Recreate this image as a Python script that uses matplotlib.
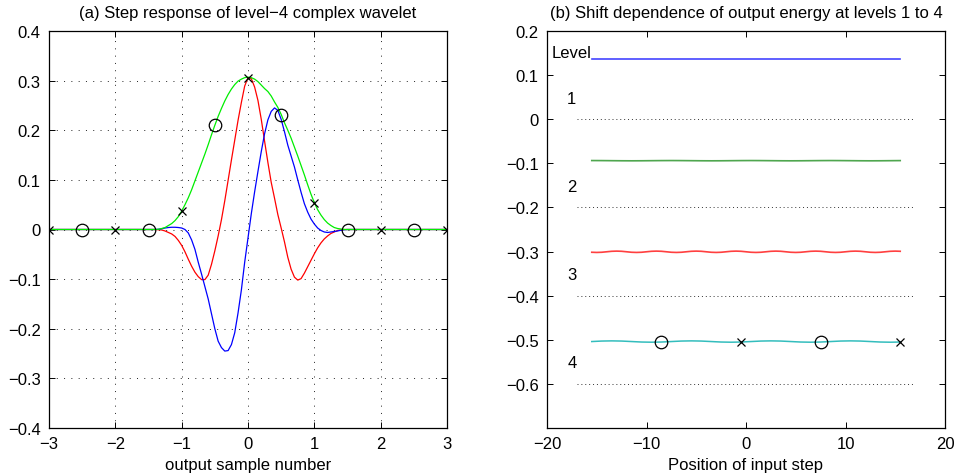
import numpy as np
import matplotlib
matplotlib.use("Agg")
import matplotlib.pyplot as plt
from matplotlib.ticker import FuncFormatter, FixedLocator

plt.rcParams['font.family'] = ['Liberation Sans', 'DejaVu Sans']
plt.rcParams['font.size'] = 12

# ---------------- data: panel (a) ----------------
wave_x = [-3.0, -2.0] + [round(v, 2) for v in np.arange(-1.5, 1.5001, 0.05)] + [2.0, 3.0]

real_part = [0.0, 0.0,
    0.0, 0.0, 0.0, -0.0005, -0.001, -0.003, -0.006, -0.009, -0.014, -0.022,
    -0.032, -0.045, -0.060, -0.074, -0.086, -0.095, -0.101, -0.101, -0.092, -0.070,
    -0.043, -0.013, 0.020, 0.058, 0.099, 0.140, 0.180, 0.220, 0.256, 0.289,
    0.306,
    0.304, 0.287, 0.260, 0.222, 0.178, 0.135, 0.095, 0.063, 0.030, 0.003,
    -0.025, -0.056, -0.080, -0.096, -0.102, -0.099, -0.088, -0.075, -0.062, -0.049,
    -0.037, -0.027, -0.019, -0.013, -0.008, -0.005, -0.002, -0.001, 0.0, 0.0,
    0.0, 0.0]

imag_part = [0.0, 0.0,
    0.0, 0.0, 0.0, 0.0005, 0.0015, 0.003, 0.004, 0.0045, 0.0045, 0.004,
    0.003, 0.0, -0.007, -0.021, -0.040, -0.066, -0.090, -0.115, -0.140, -0.170,
    -0.200, -0.225, -0.238, -0.245, -0.244, -0.232, -0.208, -0.168, -0.122, -0.066,
    -0.017,
    0.032, 0.076, 0.117, 0.157, 0.193, 0.221, 0.238, 0.245, 0.240, 0.222,
    0.197, 0.170, 0.148, 0.126, 0.100, 0.075, 0.052, 0.035, 0.021, 0.011,
    0.003, -0.002, -0.005, -0.006, -0.005, -0.004, -0.003, -0.0015, -0.0005, 0.0,
    0.0, 0.0]

magnitude = [0.0, 0.0,
    0.0, 0.0, 0.0, 0.0005, 0.002, 0.004, 0.008, 0.012, 0.018, 0.026,
    0.037, 0.050, 0.064, 0.080, 0.098, 0.116, 0.134, 0.152, 0.171, 0.191,
    0.210, 0.228, 0.244, 0.259, 0.272, 0.283, 0.292, 0.299, 0.303, 0.306,
    0.307,
    0.306, 0.303, 0.298, 0.291, 0.284, 0.278, 0.269, 0.257, 0.246, 0.232,
    0.215, 0.200, 0.184, 0.166, 0.148, 0.129, 0.110, 0.090, 0.071, 0.054,
    0.040, 0.029, 0.020, 0.013, 0.008, 0.004, 0.002, 0.001, 0.0, 0.0,
    0.0, 0.0]

cross_x = [-3, -2, -1, 0, 1, 2, 3]
cross_y = [0.0, 0.0, 0.037, 0.305, 0.054, 0.0, 0.0]
circle_x = [-2.5, -1.5, -0.5, 0.5, 1.5, 2.5]
circle_y = [0.0, 0.0, 0.211, 0.231, 0.0, 0.0]

# ---------------- data: panel (b) ----------------
shift_x = [round(v, 1) for v in np.arange(-15.5, 15.51, 1.0)]
shift_x_fine = [round(v, 1) for v in np.arange(-15.5, 15.51, 0.5)]

level1 = [
    0.1375, 0.1375, 0.1375, 0.1375, 0.1375, 0.1375, 0.1375, 0.1375,
    0.1375, 0.1375, 0.1375, 0.1375, 0.1375, 0.1375, 0.1375, 0.1375,
    0.1375, 0.1375, 0.1375, 0.1375, 0.1375, 0.1375, 0.1375, 0.1375,
    0.1375, 0.1375, 0.1375, 0.1375, 0.1375, 0.1375, 0.1375, 0.1375]
level2 = [
    -0.0937, -0.0938, -0.0940, -0.0942, -0.0943, -0.0942, -0.0940, -0.0938,
    -0.0937, -0.0938, -0.0940, -0.0942, -0.0943, -0.0942, -0.0940, -0.0938,
    -0.0937, -0.0938, -0.0940, -0.0942, -0.0943, -0.0942, -0.0940, -0.0938,
    -0.0937, -0.0938, -0.0940, -0.0942, -0.0943, -0.0942, -0.0940, -0.0938]
level3 = [
    -0.3016, -0.3020, -0.3016, -0.3005, -0.2994, -0.2990, -0.2994, -0.3005,
    -0.3016, -0.3020, -0.3016, -0.3005, -0.2994, -0.2990, -0.2994, -0.3005,
    -0.3016, -0.3020, -0.3016, -0.3005, -0.2994, -0.2990, -0.2994, -0.3005,
    -0.3016, -0.3020, -0.3016, -0.3005, -0.2994, -0.2990, -0.2994, -0.3005,
    -0.3016, -0.3020, -0.3016, -0.3005, -0.2994, -0.2990, -0.2994, -0.3005,
    -0.3016, -0.3020, -0.3016, -0.3005, -0.2994, -0.2990, -0.2994, -0.3005,
    -0.3016, -0.3020, -0.3016, -0.3005, -0.2994, -0.2990, -0.2994, -0.3005,
    -0.3016, -0.3020, -0.3016, -0.3005, -0.2994, -0.2990, -0.2994]
level4 = [
    -0.5040, -0.5029, -0.5025, -0.5029, -0.5040, -0.5051, -0.5055, -0.5051,
    -0.5040, -0.5029, -0.5025, -0.5029, -0.5040, -0.5051, -0.5055, -0.5051,
    -0.5040, -0.5029, -0.5025, -0.5029, -0.5040, -0.5051, -0.5055, -0.5051,
    -0.5040, -0.5029, -0.5025, -0.5029, -0.5040, -0.5051, -0.5055, -0.5051]
l4_circle_x = [-8.5, 7.5]
l4_circle_y = [-0.5048, -0.5048]
l4_cross_x = [-0.5, 15.5]
l4_cross_y = [-0.5048, -0.5048]
ref_levels = [0.0, -0.2, -0.4, -0.6]
ref_x = [-17.0, 16.8]
level_names = ['1', '2', '3', '4']
level_label_y = [0.048, -0.152, -0.352, -0.552]

# ---------------- figure ----------------
fig = plt.figure(figsize=(9.56, 4.77), dpi=100)
axL = fig.add_axes([49/956, 1-429/477, 398/956, 397/477])
axR = fig.add_axes([547/956, 1-429/477, 398/956, 397/477])


def _fmt(v, p):
    v = round(v, 6) + 0.0
    if v == 0:
        return '0'
    return ('%g' % v).replace('-', '\u2212')


fmt = FuncFormatter(_fmt)


def style(ax):
    ax.tick_params(direction='in', top=True, right=True, length=4, width=0.7,
                   pad=6, labelsize=12)
    for s in ax.spines.values():
        s.set_linewidth(0.9)
    ax.xaxis.set_major_formatter(fmt)
    ax.yaxis.set_major_formatter(fmt)


# panel (a)
axL.plot(wave_x, real_part, color='#ff0000', lw=0.9)
axL.plot(wave_x, imag_part, color='#0000ff', lw=0.9)
axL.plot(wave_x, magnitude, color='#00ee00', lw=0.9)
axL.plot(cross_x, cross_y, 'x', color='black', ms=6, mew=0.9)
axL.plot(circle_x, circle_y, 'o', mfc='none', mec='black', ms=9, mew=0.9)
axL.set_xlim(-3, 3)
axL.set_ylim(-0.4, 0.4)
axL.xaxis.set_major_locator(FixedLocator([-3, -2, -1, 0, 1, 2, 3]))
axL.yaxis.set_major_locator(FixedLocator(list(np.round(np.arange(-0.4, 0.401, 0.1), 1))))
axL.grid(True, color='#222222', lw=0.7, linestyle=(0, (1, 6.5)))
style(axL)
axL.set_title('(a) Step response of level\u22124 complex wavelet', fontsize=12, pad=10)
axL.set_xlabel('output sample number', fontsize=12, labelpad=4)

# panel (b)
axR.plot(shift_x, level1, color='#4444ff', lw=1.2)
axR.plot(shift_x, level2, color='#4fa64f', lw=1.2)
axR.plot(shift_x_fine, level3, color='#ff4040', lw=1.2)
axR.plot(shift_x, level4, color='#33bdbd', lw=1.1)
axR.plot(l4_circle_x, l4_circle_y, 'o', mfc='none', mec='black', ms=9, mew=0.9)
axR.plot(l4_cross_x, l4_cross_y, 'x', color='black', ms=6, mew=0.9)
for lv in ref_levels:
    axR.plot(ref_x, [lv, lv], color='#333333', lw=0.7, linestyle=(0, (1, 3)))
axR.text(-19.5, 0.151, 'Level', ha='left', va='center', fontsize=12)
for name, yy in zip(level_names, level_label_y):
    axR.text(-17.5, yy, name, ha='center', va='center', fontsize=12)
axR.set_xlim(-20, 20)
axR.set_ylim(-0.7, 0.2)
axR.xaxis.set_major_locator(FixedLocator([-20, -10, 0, 10, 20]))
axR.yaxis.set_major_locator(FixedLocator(list(np.round(np.arange(-0.6, 0.201, 0.1), 1))))
style(axR)
axR.set_title('(b) Shift dependence of output energy at levels 1 to 4', fontsize=12, pad=10)
axR.set_xlabel('Position of input step', fontsize=12, labelpad=4)

fig.savefig('out.png', dpi=100)
